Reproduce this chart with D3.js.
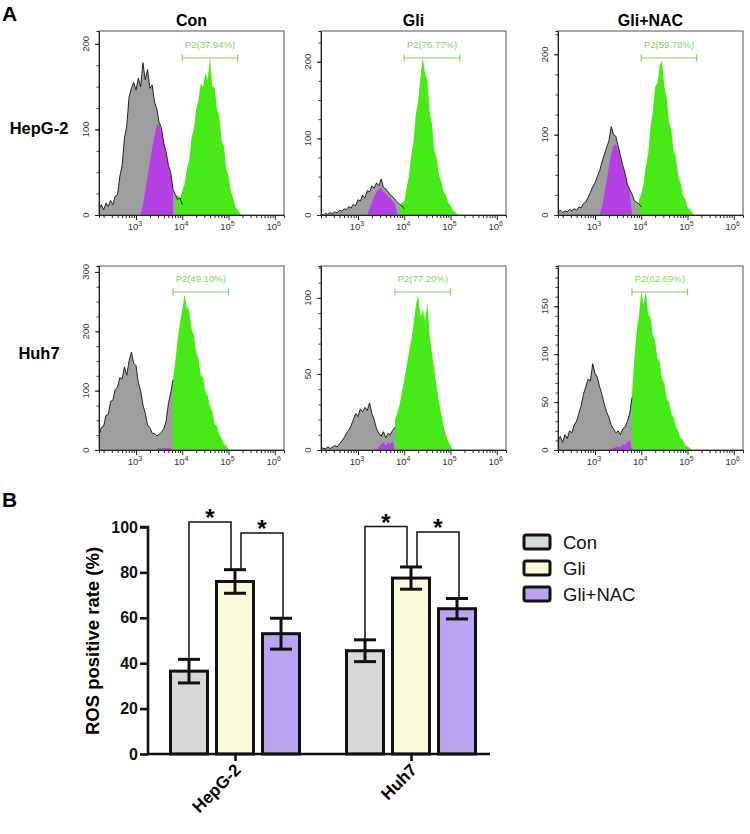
<!DOCTYPE html>
<html><head><meta charset="utf-8">
<script src="https://cdn.jsdelivr.net/npm/d3@7"></script>
<style>body{margin:0;background:#fff}svg{display:block}text{font-family:"Liberation Sans",Arial,sans-serif}</style>
</head><body><svg id="c" width="750" height="834"></svg>
<script>
// ---------------- DATA ----------------
const binStep = 0.05;               // log10 bin width of histogram samples
const columns = ["Con", "Gli", "Gli+NAC"];
const rows = ["HepG-2", "Huh7"];
const gateLabels = [["P2(37.94%)", "P2(76.77%)", "P2(59.78%)"], ["P2(49.10%)", "P2(77.20%)", "P2(62.69%)"]];
const gateLogRange = [[4.0, 5.2], [3.8, 5.0]];
const histYMax = [[215, 240, 229], [310, 121, 192]];
const histYMajor = [[[0, 100, 200], [0, 100, 200], [0, 100, 200]], [[0, 100, 200, 300], [0, 50, 100], [0, 50, 100, 150]]];
const histYMinorStep = [[25, 25, 25], [25, 10, 10]];
const xDecades = [3, 4, 5, 6];

// HepG-2 / Con
const hepConGrayStart = 2.2;
const hepConGray = [7,12,6,14,10,17,12,22,24,45,58,90,104,138,148,155,146,160,150,178,158,170,148,152,132,124,108,102,84,74,58,50,30,24,18,20,12];
const hepConPurpleStart = 3.1;
const hepConPurple = [0,12,28,45,62,78,92,105,106,98,84,70,57,46,30];
const hepConGreenStart = 3.85;
const hepConGreen = [18,24,18,28,36,54,64,90,100,124,134,154,150,166,158,184,150,150,124,116,88,80,54,46,28,20,9,6,2,0];
// HepG-2 / Gli
const hepGliGrayStart = 2.2;
const hepGliGray = [1,0,2,1,3,2,4,3,6,5,8,7,11,9,14,12,20,18,26,22,32,30,38,35,42,38,47,36,34,30,26,24,20,17,14,12,8];
const hepGliPurpleStart = 3.2;
const hepGliPurple = [0,8,16,24,30,34,36,30,28,24,22,18,14,0];
const hepGliGreenStart = 3.9;
const hepGliGreen = [10,16,18,36,50,78,96,132,148,180,205,184,176,134,118,84,74,52,44,30,26,16,13,6,4,1,0];
// HepG-2 / Gli+NAC
const hepNacGrayStart = 2.2;
const hepNacGray = [4,6,3,5,4,7,5,8,6,10,9,14,16,22,28,35,40,48,55,66,75,84,92,110,100,98,86,74,62,52,38,32,26,18,16,14,10];
const hepNacPurpleStart = 3.1;
const hepNacPurple = [0,10,25,42,60,76,86,88,82,70,60,50,38,30,0];
const hepNacGreenStart = 3.95;
const hepNacGreen = [18,26,38,62,76,110,128,160,164,186,192,160,146,116,106,80,72,48,40,24,20,10,7,3,0];
// Huh7 / Con
const huhConGrayStart = 2.2;
const huhConGray = [25,38,40,58,60,82,84,102,106,122,120,140,126,150,165,146,142,114,100,76,62,42,38,28,28,24,26,30,36,48,78,96,118];
const huhConPurpleStart = 3.45;
const huhConPurple = [2,4,2,4,3,4,3,0];
const huhConGreenStart = 3.8;
const huhConGreen = [120,150,185,215,236,262,240,236,204,194,164,154,126,122,98,92,72,66,44,40,26,20,10,7,2,0];
// Huh7 / Gli
const huhGliGrayStart = 2.2;
const huhGliGray = [2,1,1,2,1,2,3,2,4,6,8,11,13,16,20,24,22,27,25,28,26,31,24,20,14,11,9,12,8,11,10,13,15];
const huhGliPurpleStart = 3.4;
const huhGliPurple = [0,2,4,5,3,5,4,6,0];
const huhGliGreenStart = 3.8;
const huhGliGreen = [20,24,30,38,46,55,64,72,82,95,102,88,92,85,97,75,64,52,42,32,24,16,10,6,3,0];
// Huh7 / Gli+NAC
const huhNacGrayStart = 2.2;
const huhNacGray = [10,14,8,16,12,20,18,26,30,38,46,58,66,74,72,90,80,76,66,58,48,40,34,26,22,18,20,16,22,24,30,38,55];
const huhNacPurpleStart = 3.3;
const huhNacPurple = [0,1,2,3,4,3,6,5,8,10,0];
const huhNacGreenStart = 3.8;
const huhNacGreen = [58,95,124,140,165,152,165,142,138,120,114,96,92,74,70,54,50,38,34,24,20,12,11,5,4,2,0];

// Panel B
const groups = ["HepG-2", "Huh7"];
const seriesNames = ["Con", "Gli", "Gli+NAC"];
const rosMean = {"HepG-2": [36.5, 76, 53], "Huh7": [45.5, 77.5, 64]};
const rosErr = {"HepG-2": [5.2, 5.2, 6.8], "Huh7": [4.8, 4.9, 4.5]};
const barYTicks = [0, 20, 40, 60, 80, 100];
const sigPairs = [["HepG-2", 0, 1, 102.2], ["HepG-2", 1, 2, 97.4], ["Huh7", 0, 1, 100.2], ["Huh7", 1, 2, 97.8]];

// ---------------- DRAW ----------------
const svg = d3.select("#c");
const FONT = '"Liberation Sans",Arial,sans-serif';

const panels = [
  {r:0,c:0,gray:hepConGray,g0:hepConGrayStart,purple:hepConPurple,p0:hepConPurpleStart,green:hepConGreen,n0:hepConGreenStart},
  {r:0,c:1,gray:hepGliGray,g0:hepGliGrayStart,purple:hepGliPurple,p0:hepGliPurpleStart,green:hepGliGreen,n0:hepGliGreenStart},
  {r:0,c:2,gray:hepNacGray,g0:hepNacGrayStart,purple:hepNacPurple,p0:hepNacPurpleStart,green:hepNacGreen,n0:hepNacGreenStart},
  {r:1,c:0,gray:huhConGray,g0:huhConGrayStart,purple:huhConPurple,p0:huhConPurpleStart,green:huhConGreen,n0:huhConGreenStart},
  {r:1,c:1,gray:huhGliGray,g0:huhGliGrayStart,purple:huhGliPurple,p0:huhGliPurpleStart,green:huhGliGreen,n0:huhGliGreenStart},
  {r:1,c:2,gray:huhNacGray,g0:huhNacGrayStart,purple:huhNacPurple,p0:huhNacPurpleStart,green:huhNacGreen,n0:huhNacGreenStart}
];
const colX = [99, 321, 558], rowY = [31, 266], PW = 185, PH = 184;

svg.append("text").attr("x", 2).attr("y", 21).attr("font-size", 21).attr("font-weight", "bold").text("A");
columns.forEach((t, i) => svg.append("text").attr("x", colX[i] + PW / 2).attr("y", 26).attr("text-anchor", "middle")
  .attr("font-size", 16).attr("font-weight", "bold").text(t));
rows.forEach((t, i) => svg.append("text").attr("x", 39).attr("y", rowY[i] + (i === 0 ? 103 : 93)).attr("text-anchor", "middle")
  .attr("font-size", 16.5).attr("font-weight", "bold").text(t));

const toPts = (arr, s) => arr.map((v, i) => [Math.pow(10, s + i * binStep), v]);

panels.forEach((p, k) => {
  const g = svg.append("g").attr("transform", `translate(${colX[p.c]},${rowY[p.r]})`);
  const x = d3.scaleLog().domain([Math.pow(10, 2.2), Math.pow(10, 6.2)]).range([0, PW]);
  const y = d3.scaleLinear().domain([0, histYMax[p.r][p.c]]).range([PH, 0]);
  const cid = "clip" + k;
  g.append("clipPath").attr("id", cid).append("rect").attr("width", PW).attr("height", PH);
  const area = d3.area().x(d => x(d[0])).y0(PH).y1(d => y(d[1]));
  const line = d3.line().x(d => x(d[0])).y(d => y(d[1]));
  const body = g.append("g").attr("clip-path", `url(#${cid})`);
  body.append("path").attr("d", area(toPts(p.gray, p.g0))).attr("fill", "#9d9f9e");
  body.append("path").attr("d", area(toPts(p.purple, p.p0))).attr("fill", "#b43fe4");
  body.append("path").attr("d", area(toPts(p.green, p.n0))).attr("fill", "#47ea16");
  body.append("path").attr("d", line(toPts(p.gray, p.g0))).attr("fill", "none").attr("stroke", "#111").attr("stroke-width", 0.9);
  // frame
  g.append("rect").attr("width", PW).attr("height", PH).attr("fill", "none").attr("stroke", "#555").attr("stroke-width", 1);
  // x axis ticks
  const minor = [];
  for (let d = 2; d <= 6; d++) for (let m = 1; m <= 9; m++) { const v = m * Math.pow(10, d); if (v >= Math.pow(10, 2.2) && v <= Math.pow(10, 6.2) && m > 1) minor.push(v); }
  g.append("g").attr("transform", `translate(0,${PH})`)
    .call(d3.axisBottom(x).tickValues(minor).tickSize(3).tickFormat(""))
    .call(a => { a.select(".domain").attr("stroke", "#222"); a.selectAll("line").attr("stroke", "#222"); });
  const xa = g.append("g").attr("transform", `translate(0,${PH})`)
    .call(d3.axisBottom(x).tickValues(xDecades.map(d => Math.pow(10, d))).tickSize(5).tickFormat(""));
  xa.select(".domain").remove(); xa.selectAll("line").attr("stroke", "#222");
  xDecades.forEach(d => {
    const t = g.append("text").attr("x", x(Math.pow(10, d)) - 1).attr("y", PH + 15).attr("text-anchor", "middle")
      .attr("font-size", 9.5).attr("fill", "#333");
    t.append("tspan").text("10");
    t.append("tspan").attr("dy", -4).attr("font-size", 7).text(d);
  });
  // y axis ticks
  const ymax = histYMax[p.r][p.c], st = histYMinorStep[p.r][p.c];
  const yMinor = d3.range(0, ymax + 0.01, st);
  g.append("g").call(d3.axisLeft(y).tickValues(yMinor).tickSize(2.5).tickFormat(""))
    .call(a => { a.select(".domain").attr("stroke", "#222"); a.selectAll("line").attr("stroke", "#333"); });
  const ya = g.append("g").call(d3.axisLeft(y).tickValues(histYMajor[p.r][p.c]).tickSize(4).tickFormat(""));
  ya.select(".domain").remove(); ya.selectAll("line").attr("stroke", "#222");
  histYMajor[p.r][p.c].forEach(v => {
    g.append("text").attr("transform", `translate(-10,${y(v)}) rotate(-90)`).attr("text-anchor", "middle")
      .attr("font-size", 9.5).attr("fill", "#333").text(v);
  });
  // gate
  const gr = gateLogRange[p.r];
  const gx1 = x(Math.pow(10, gr[0])), gx2 = x(Math.pow(10, gr[1])), gy = p.r === 0 ? 27 : 26;
  const gc = "#78d957";
  g.append("line").attr("x1", gx1).attr("x2", gx2).attr("y1", gy).attr("y2", gy).attr("stroke", gc).attr("stroke-width", 1.2);
  [gx1, gx2].forEach(xx => g.append("line").attr("x1", xx).attr("x2", xx).attr("y1", gy - 3.5).attr("y2", gy + 3.5).attr("stroke", gc).attr("stroke-width", 1.2));
  g.append("text").attr("x", (gx1 + gx2) / 2).attr("y", gy - 10).attr("text-anchor", "middle").attr("font-size", 9.5)
    .attr("fill", gc).text(gateLabels[p.r][p.c]);
});

// ---------------- PANEL B ----------------
svg.append("text").attr("x", 2).attr("y", 507).attr("font-size", 21).attr("font-weight", "bold").text("B");
const by = d3.scaleLinear().domain([0, 100]).range([754, 527]);
const bx = d3.scalePoint().domain(groups).range([235, 411]);
const sub = d3.scaleBand().domain(seriesNames).range([-64.5, 64.5]).paddingInner(0.196);
const barColors = ["#d4d9d9", "#fafadb", "#b9a3f3"];
const B = svg.append("g");

groups.forEach(gname => {
  seriesNames.forEach((s, i) => {
    const x0 = bx(gname) + sub(s);
    const v = rosMean[gname][i], e = rosErr[gname][i], cx = x0 + sub.bandwidth() / 2;
    B.append("rect").attr("x", x0).attr("y", by(v)).attr("width", sub.bandwidth()).attr("height", by(0) - by(v))
      .attr("fill", barColors[i]).attr("stroke", "#111").attr("stroke-width", 3);
    B.append("line").attr("x1", cx).attr("x2", cx).attr("y1", by(v + e)).attr("y2", by(v - e)).attr("stroke", "#111").attr("stroke-width", 3);
    [v + e, v - e].forEach(t => B.append("line").attr("x1", cx - 11).attr("x2", cx + 11).attr("y1", by(t)).attr("y2", by(t))
      .attr("stroke", "#111").attr("stroke-width", 3));
  });
});

// significance brackets
sigPairs.forEach(([gname, a, b, lvl]) => {
  const cxa = bx(gname) + sub(seriesNames[a]) + sub.bandwidth() / 2 + (a === 1 ? 6 : 0);
  const cxb = bx(gname) + sub(seriesNames[b]) + sub.bandwidth() / 2 + (b === 1 ? -4 : 2);
  const ya = by(rosMean[gname][a] + rosErr[gname][a]), yb = by(rosMean[gname][b] + rosErr[gname][b]);
  const yl = by(lvl);
  B.append("path").attr("d", `M${cxa},${ya}V${yl}H${cxb}V${yb}`).attr("fill", "none").attr("stroke", "#111").attr("stroke-width", 1.5);
  B.append("text").attr("x", (cxa + cxb) / 2).attr("y", yl + 4).attr("text-anchor", "middle").attr("font-size", 24)
    .attr("font-weight", "bold").text("*");
});

// axes
const yAx = B.append("g").attr("transform", "translate(148,0)")
  .call(d3.axisLeft(by).tickValues(barYTicks).tickSize(8).tickPadding(2));
yAx.select(".domain").attr("stroke", "#111").attr("stroke-width", 2.6).attr("d", `M-8,${by(100)}H0V${by(0)}`);
yAx.selectAll("line").attr("stroke", "#111").attr("stroke-width", 2.6);
yAx.selectAll("text").attr("font-size", 16).attr("font-weight", "bold").attr("fill", "#111").attr("font-family", FONT);
const xAx = B.append("g").attr("transform", `translate(0,${by(0)})`)
  .call(d3.axisBottom(bx).tickSize(7).tickFormat(""));
xAx.select(".domain").attr("stroke", "#111").attr("stroke-width", 2.6).attr("d", "M147,0H490");
xAx.selectAll("line").attr("stroke", "#111").attr("stroke-width", 2.6);
groups.forEach(gname => {
  B.append("text").attr("transform", `translate(${bx(gname) + 7},${by(0) + 17}) rotate(-45)`).attr("text-anchor", "end")
    .attr("font-size", 17).attr("font-weight", "bold").text(gname);
});
B.append("text").attr("transform", "translate(99,641) rotate(-90)").attr("text-anchor", "middle")
  .attr("font-size", 18.5).attr("font-weight", "bold").text("ROS positive rate (%)");

// legend
seriesNames.forEach((s, i) => {
  const ly = 542 + i * 26;
  B.append("rect").attr("x", 524).attr("y", ly - 7).attr("width", 26).attr("height", 14).attr("rx", 2)
    .attr("fill", barColors[i]).attr("stroke", "#111").attr("stroke-width", 3);
  B.append("text").attr("x", 563).attr("y", ly + 6.5).attr("font-size", 18.5).attr("fill", "#111").text(s);
});
</script></body></html>
